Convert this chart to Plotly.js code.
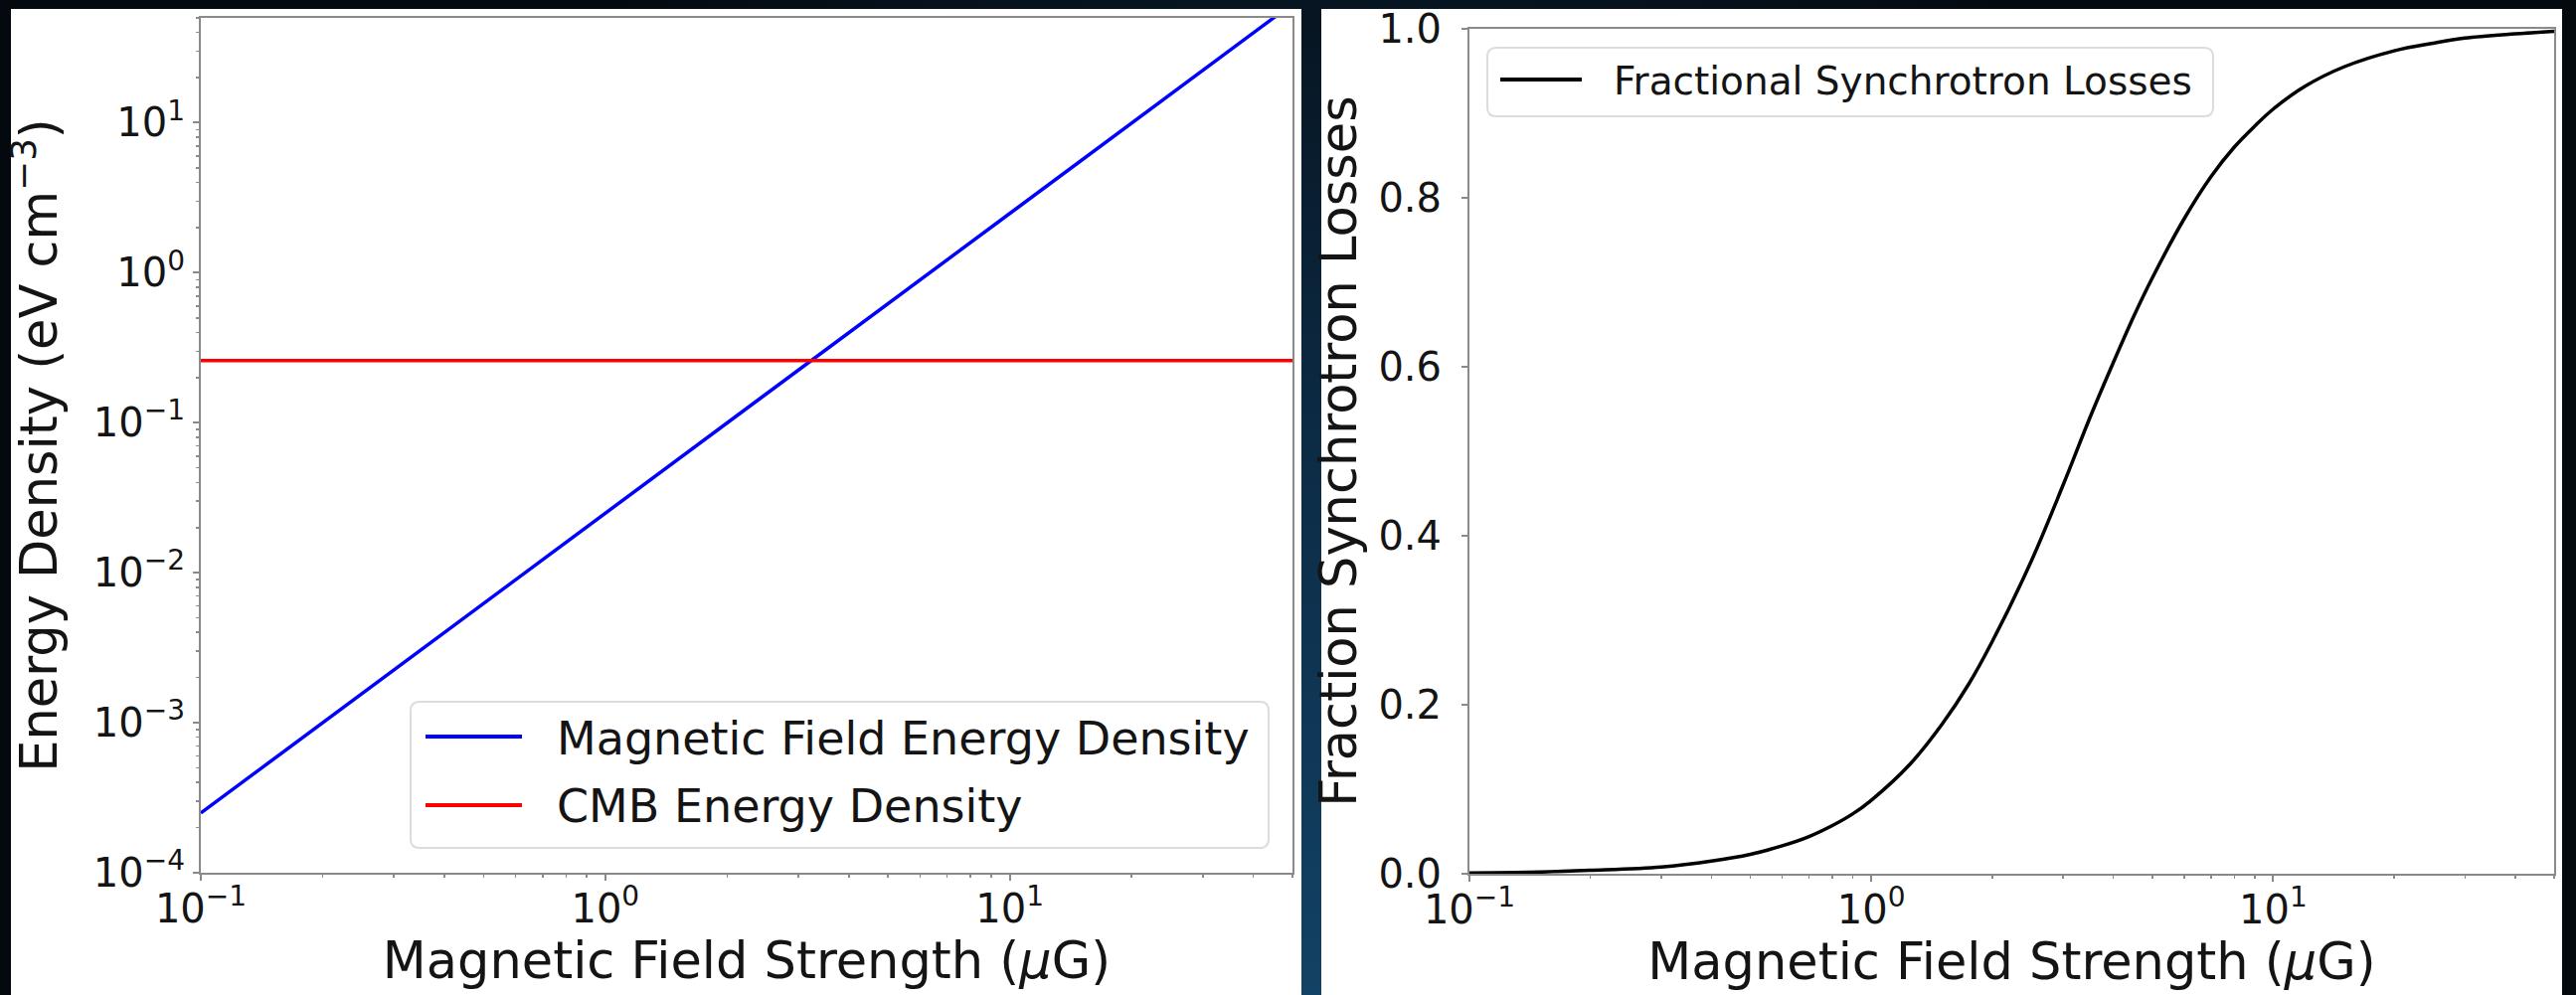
<!DOCTYPE html>
<html>
<head>
<meta charset="utf-8">
<script src="https://cdn.plot.ly/plotly-3.0.1.min.js"></script>
<style>
  html, body { margin: 0; padding: 0; }
  body {
    width: 2591px; height: 1001px; overflow: hidden;
    background: radial-gradient(ellipse 1000px 1400px at 1319px 1001px, #124265 0%, #0c2b45 40%, #071522 70%, #04090f 100%);
  }
  #chart { width: 2591px; height: 1001px; }
</style>
</head>
<body>
<div id="chart"></div>
<script>
// ---------------- data ----------------
// Left panel: energy densities vs magnetic field strength (muG)
const fieldB = [0.1, 1, 10, 50];
const magEnergyDensity = [2.5e-4, 2.5e-2, 2.5, 62];       // eV cm^-3
const cmbB = [0.1, 50];
const cmbEnergyDensity = [0.26, 0.26];                     // eV cm^-3

// Right panel: fractional synchrotron losses vs magnetic field strength (muG)
const fracB = [0.1, 0.15, 0.2, 0.3, 0.4, 0.5, 0.6, 0.7, 0.8, 0.9, 1, 1.25, 1.5, 1.75, 2, 2.5, 3, 3.5, 4, 4.5, 5, 6, 7, 8, 9, 10, 12, 15, 20, 25, 30, 40, 50];
const fracLoss = [0.001, 0.002, 0.004, 0.008, 0.015, 0.023, 0.033, 0.044, 0.057, 0.071, 0.087, 0.13, 0.177, 0.225, 0.275, 0.37, 0.46, 0.54, 0.605, 0.66, 0.705, 0.775, 0.825, 0.86, 0.885, 0.905, 0.932, 0.955, 0.974, 0.983, 0.989, 0.994, 0.997];

// tick labels
const logXTickVals = [0.1, 1, 10];
const logXTickText = ['10<sup>−1</sup>', '10<sup>0</sup>', '10<sup>1</sup>'];
const logYTickVals = [1e-4, 1e-3, 1e-2, 1e-1, 1, 10];
const logYTickText = ['10<sup>−4</sup>', '10<sup>−3</sup>', '10<sup>−2</sup>', '10<sup>−1</sup>', '10<sup>0</sup>', '10<sup>1</sup>'];
const fracTickVals = [0, 0.2, 0.4, 0.6, 0.8, 1.0];
const fracTickText = ['0.0', '0.2', '0.4', '0.6', '0.8', '1.0'];

// legend labels
const leftLegendNames = ['Magnetic Field Energy Density', 'CMB Energy Density'];
const rightLegendNames = ['Fractional Synchrotron Losses'];

// ---------------- layout helpers ----------------
const W = 2591, H = 1001;
const px = x => x / W;
const py = y => 1 - y / H;

function minorLogTicks(lo, hi) {
  const v = [];
  for (let d = lo; d <= hi; d++) {
    for (let k = 2; k <= 9; k++) {
      v.push(k * Math.pow(10, d));
    }
  }
  return v;
}

const FONT = 'DejaVu Sans, Verdana, sans-serif';
const TXT = '#141414';
const AXC = '#8a8a8a';

const traces = [
  { x: fieldB, y: magEnergyDensity, name: leftLegendNames[0], type: 'scatter', mode: 'lines',
    line: { color: '#0000ff', width: 3.5 }, xaxis: 'x', yaxis: 'y', showlegend: false },
  { x: cmbB, y: cmbEnergyDensity, name: leftLegendNames[1], type: 'scatter', mode: 'lines',
    line: { color: '#ff0000', width: 3.5 }, xaxis: 'x', yaxis: 'y', showlegend: false },
  { x: fracB, y: fracLoss, name: rightLegendNames[0], type: 'scatter', mode: 'lines',
    line: { color: '#000000', width: 3.5, shape: 'spline', smoothing: 1 }, xaxis: 'x2', yaxis: 'y2', showlegend: false }
];

const commonAxis = {
  showline: true, mirror: true, linecolor: AXC, linewidth: 2,
  ticks: 'outside', ticklen: 6, tickwidth: 2, tickcolor: AXC,
  showgrid: false, zeroline: false,
  tickfont: { family: FONT, size: 40, color: TXT },
  automargin: false
};

function roundedRect(x0, y0, x1, y1, r) {
  const X = v => px(v), Y = v => py(v);
  return 'M' + X(x0 + r) + ',' + Y(y0) +
    ' L' + X(x1 - r) + ',' + Y(y0) +
    ' Q' + X(x1) + ',' + Y(y0) + ' ' + X(x1) + ',' + Y(y0 + r) +
    ' L' + X(x1) + ',' + Y(y1 - r) +
    ' Q' + X(x1) + ',' + Y(y1) + ' ' + X(x1 - r) + ',' + Y(y1) +
    ' L' + X(x0 + r) + ',' + Y(y1) +
    ' Q' + X(x0) + ',' + Y(y1) + ' ' + X(x0) + ',' + Y(y1 - r) +
    ' L' + X(x0) + ',' + Y(y0 + r) +
    ' Q' + X(x0) + ',' + Y(y0) + ' ' + X(x0 + r) + ',' + Y(y0) + ' Z';
}

const shapes = [
  // white panels
  { type: 'rect', xref: 'paper', yref: 'paper', x0: px(11), x1: px(1309), y0: 0, y1: py(9),
    fillcolor: '#ffffff', line: { width: 0 }, layer: 'below' },
  { type: 'rect', xref: 'paper', yref: 'paper', x0: px(1329), x1: px(2577), y0: 0, y1: py(9),
    fillcolor: '#ffffff', line: { width: 0 }, layer: 'below' },
  // left legend frame and samples
  { type: 'path', xref: 'paper', yref: 'paper', path: roundedRect(413, 706, 1276, 853, 9),
    fillcolor: 'rgba(255,255,255,0.85)', line: { color: '#dcdcdc', width: 2 }, layer: 'above' },
  { type: 'line', xref: 'paper', yref: 'paper', x0: px(428), x1: px(525), y0: py(741), y1: py(741),
    line: { color: '#0000ff', width: 4 } },
  { type: 'line', xref: 'paper', yref: 'paper', x0: px(428), x1: px(525), y0: py(810), y1: py(810),
    line: { color: '#ff0000', width: 4 } },
  // right legend frame and sample
  { type: 'path', xref: 'paper', yref: 'paper', path: roundedRect(1496, 48, 2226, 117, 9),
    fillcolor: 'rgba(255,255,255,0.85)', line: { color: '#dcdcdc', width: 2 }, layer: 'above' },
  { type: 'line', xref: 'paper', yref: 'paper', x0: px(1509), x1: px(1591), y0: py(80), y1: py(80),
    line: { color: '#000000', width: 4 } }
];

const annotations = [
  { xref: 'paper', yref: 'paper', x: px(558), y: py(743), xanchor: 'left', yanchor: 'middle',
    text: leftLegendNames[0], showarrow: false, font: { family: FONT, size: 46, color: TXT } },
  { xref: 'paper', yref: 'paper', x: px(558), y: py(811), xanchor: 'left', yanchor: 'middle',
    text: leftLegendNames[1], showarrow: false, font: { family: FONT, size: 46, color: TXT } },
  { xref: 'paper', yref: 'paper', x: px(1621), y: py(81), xanchor: 'left', yanchor: 'middle',
    text: rightLegendNames[0], showarrow: false, font: { family: FONT, size: 39, color: TXT } }
];

const layout = {
  width: W, height: H,
  margin: { l: 0, r: 0, t: 0, b: 0, pad: 0 },
  paper_bgcolor: 'rgba(0,0,0,0)',
  plot_bgcolor: '#ffffff',
  showlegend: false,
  font: { family: FONT, color: TXT },
  xaxis: Object.assign({}, commonAxis, {
    domain: [px(202), px(1300)], anchor: 'y', type: 'log',
    range: [-1, Math.log10(50)],
    ticklabelstandoff: -6,
    tickmode: 'array', tickvals: logXTickVals, ticktext: logXTickText,
    minor: { tickmode: 'array', tickvals: minorLogTicks(-1, 1), ticks: 'outside', ticklen: 3, tickwidth: 1.5, tickcolor: AXC },
    title: { text: 'Magnetic Field Strength (<i>μ</i>G)', font: { family: FONT, size: 51, color: TXT }, standoff: 4 }
  }),
  yaxis: Object.assign({}, commonAxis, {
    domain: [py(878), py(18)], anchor: 'x', type: 'log',
    range: [-4, Math.log10(50)],
    tickmode: 'array', tickvals: logYTickVals, ticktext: logYTickText,
    minor: { tickmode: 'array', tickvals: minorLogTicks(-4, 1), ticks: 'outside', ticklen: 3, tickwidth: 1.5, tickcolor: AXC },
    title: { text: 'Energy Density (eV cm<sup>−3</sup>)', font: { family: FONT, size: 51, color: TXT }, standoff: 20 }
  }),
  xaxis2: Object.assign({}, commonAxis, {
    domain: [px(1478), px(2569)], anchor: 'y2', type: 'log',
    range: [-1, Math.log10(50)],
    ticklabelstandoff: -6,
    tickmode: 'array', tickvals: logXTickVals, ticktext: logXTickText,
    minor: { tickmode: 'array', tickvals: minorLogTicks(-1, 1), ticks: 'outside', ticklen: 3, tickwidth: 1.5, tickcolor: AXC },
    title: { text: 'Magnetic Field Strength (<i>μ</i>G)', font: { family: FONT, size: 51, color: TXT }, standoff: 4 }
  }),
  yaxis2: Object.assign({}, commonAxis, {
    domain: [py(879), py(29)], anchor: 'x2',
    range: [0, 1],
    ticklabelstandoff: 12,
    tickmode: 'array', tickvals: fracTickVals, ticktext: fracTickText,
    title: { text: 'Fraction Synchrotron Losses', font: { family: FONT, size: 51, color: TXT }, standoff: 6 }
  }),
  shapes: shapes,
  annotations: annotations
};

Plotly.newPlot('chart', traces, layout, { staticPlot: true, displayModeBar: false });
</script>
</body>
</html>
